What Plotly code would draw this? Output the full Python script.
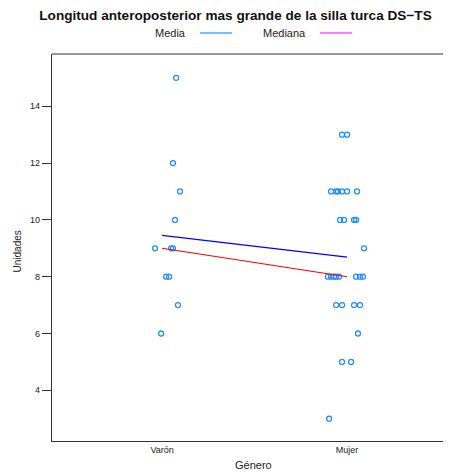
import plotly.graph_objects as go
import numpy as np

# ---- data ----
categories = ["Varón", "Mujer"]
varon_values = [15, 12, 11, 10, 9, 9, 9, 8, 8, 7, 6]
varon_jitter = [0.076, 0.059, 0.097, 0.070, -0.038, 0.049, 0.059, 0.022, 0.038, 0.086, -0.005]
mujer_values = [13, 13,
                11, 11, 11, 11, 11, 11,
                10, 10, 10, 10,
                9,
                8, 8, 8, 8, 8, 8, 8, 8,
                7, 7, 7, 7,
                6,
                5, 5,
                3]
mujer_jitter = [-0.027, 0.0,
                -0.086, -0.059, -0.049, -0.027, 0.0, 0.054,
                -0.038, -0.016, 0.038, 0.049,
                0.092,
                -0.103, -0.086, -0.070, -0.059, -0.043, 0.049, 0.070, 0.086,
                -0.059, -0.027, 0.038, 0.070,
                0.059,
                -0.027, 0.022,
                -0.097]
y_ticks = [4, 6, 8, 10, 12, 14]

title_text = "Longitud anteroposterior mas grande de la silla turca DS\u2212TS"
x_title = "Género"
y_title = "Unidades"

FONT = "Liberation Sans, Arial, Helvetica, sans-serif"
AXIS_COLOR = "#333333"
OFF = 8  # browser body margin
W, H = 451 - OFF, 472 - OFF
L, R, T, B = 52 - OFF, 0, 54 - OFF, 472 - 441
PW, PH = W - L - R, H - T - B


def px(xs):
    # screen x -> paper
    return (xs - OFF - L) / PW


def py(ys):
    # screen y -> paper
    return 1 - (ys - OFF - T) / PH


groups = [varon_values, mujer_values]
jitters = [varon_jitter, mujer_jitter]
cat_pos = [1, 2]

fig = go.Figure()

for pos, vals, jit in zip(cat_pos, groups, jitters):
    fig.add_trace(go.Scatter(
        x=[pos + j for j in jit], y=vals, mode="markers",
        marker=dict(symbol="circle-open", size=5, color="#1E90FF", line=dict(width=1.3)),
        showlegend=False, hoverinfo="y"))

means = [float(np.mean(v)) for v in groups]
medians = [float(np.median(v)) for v in groups]

fig.add_trace(go.Scatter(x=cat_pos, y=means, mode="lines",
                         line=dict(color="#0000FF", width=1.3), showlegend=False))
fig.add_trace(go.Scatter(x=cat_pos, y=medians, mode="lines",
                         line=dict(color="#FF0000", width=1.1), showlegend=False))

# top border line of the box
fig.add_shape(type="line", xref="paper", yref="paper", x0=0, x1=1, y0=1, y1=1,
              line=dict(color=AXIS_COLOR, width=1.2))

# custom legend (text then line)
leg_y = 33
fig.add_annotation(text="Media", xref="paper", yref="paper", showarrow=False,
                   x=px(188), y=py(leg_y), xanchor="right", yanchor="middle",
                   font=dict(size=11, color="#222222", family=FONT))
fig.add_shape(type="line", xref="paper", yref="paper",
              x0=px(200), x1=px(232), y0=py(leg_y), y1=py(leg_y),
              line=dict(color="#3399FF", width=1.3))
fig.add_annotation(text="Mediana", xref="paper", yref="paper", showarrow=False,
                   x=px(308), y=py(leg_y), xanchor="right", yanchor="middle",
                   font=dict(size=11, color="#222222", family=FONT))
fig.add_shape(type="line", xref="paper", yref="paper",
              x0=px(320), x1=px(352), y0=py(leg_y), y1=py(leg_y),
              line=dict(color="#FF33FF", width=1.3))

# axis titles
fig.add_annotation(text=y_title, xref="paper", yref="paper", showarrow=False,
                   x=px(16.5), y=py(252), xanchor="center", yanchor="middle", textangle=-90,
                   font=dict(size=10, color="#222222", family=FONT))
fig.add_annotation(text=x_title, xref="paper", yref="paper", showarrow=False,
                   x=px(253), y=py(465), xanchor="center", yanchor="middle",
                   font=dict(size=11, color="#222222", family=FONT))

fig.update_layout(
    width=W, height=H,
    margin=dict(l=L, r=R, t=T, b=B),
    paper_bgcolor="white", plot_bgcolor="white",
    font=dict(family=FONT, color="#222222"),
    title=dict(text="<b>" + title_text + "</b>", x=(235.5 - OFF) / W, xanchor="center",
               y=1 - (15 - OFF) / H, yanchor="middle",
               font=dict(size=13.6, color="#111111", family=FONT)),
    xaxis=dict(range=[0.405, 2.562], tickmode="array", tickvals=cat_pos, ticktext=categories,
               showgrid=False, zeroline=False, showline=True, linecolor=AXIS_COLOR, linewidth=1.2,
               ticks="", tickfont=dict(size=9, color="#222222"), automargin=False),
    yaxis=dict(range=[2.215, 15.84], tickmode="array", tickvals=y_ticks,
               showgrid=False, zeroline=False, showline=True, linecolor=AXIS_COLOR, linewidth=1.2,
               ticks="outside", ticklen=9, tickcolor=AXIS_COLOR, tickwidth=1,
               tickfont=dict(size=9, color="#222222"), automargin=False),
)

fig.write_html("out.html")
